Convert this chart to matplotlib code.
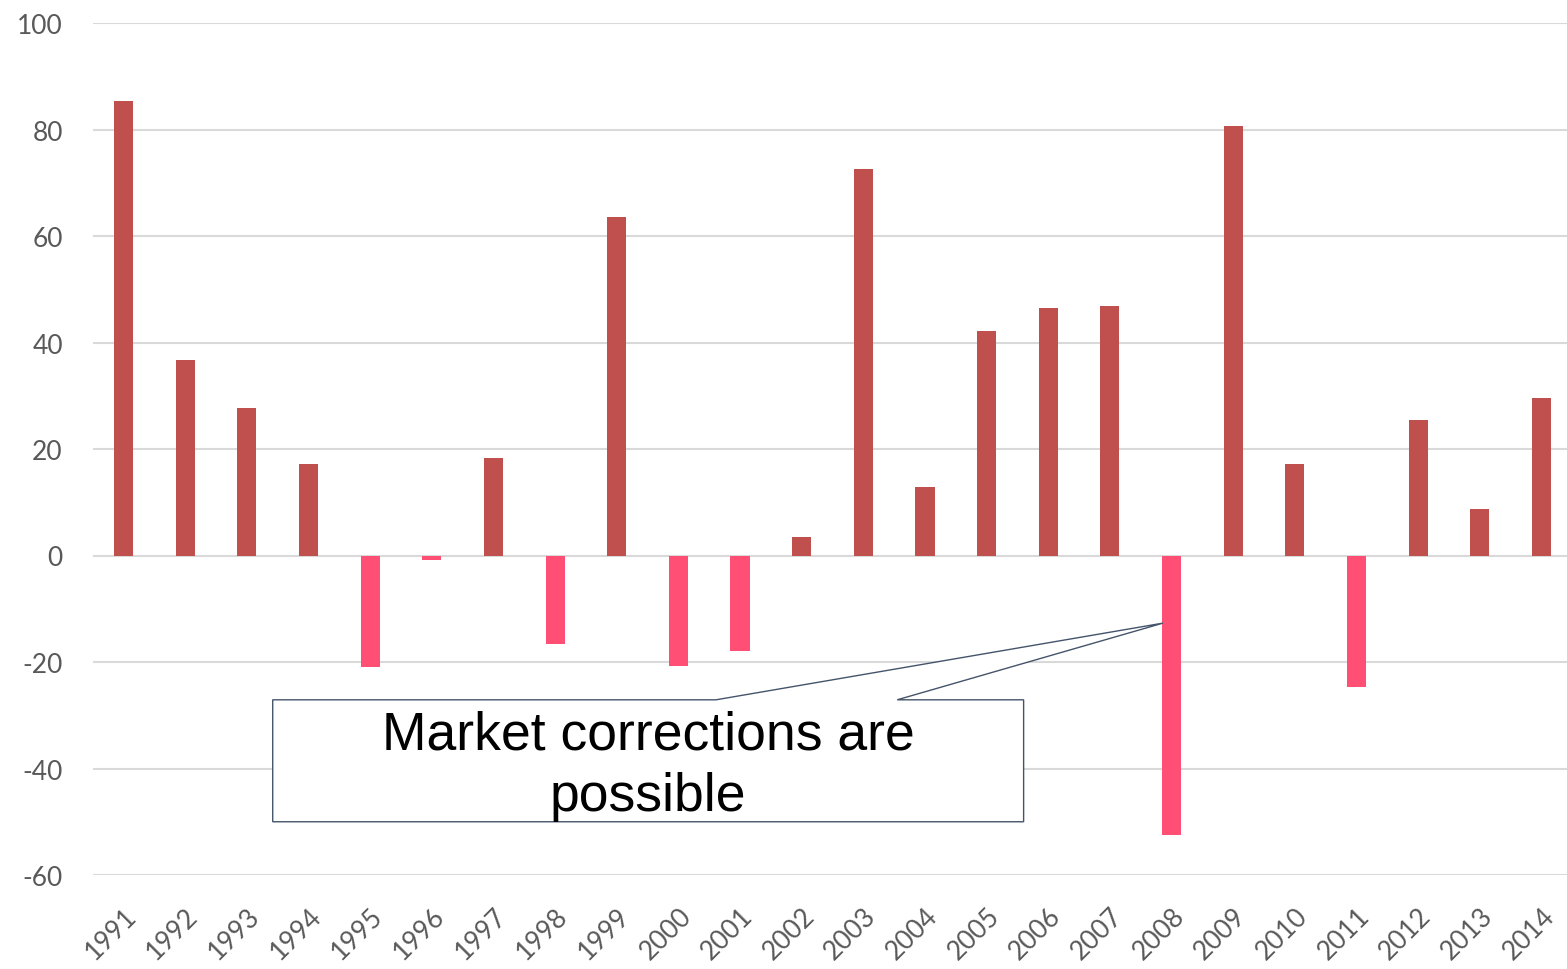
import matplotlib
matplotlib.use("Agg")
import matplotlib.pyplot as plt
from matplotlib.patches import Polygon

# Annual returns (%) by year
years = ["1991", "1992", "1993", "1994", "1995", "1996", "1997", "1998",
         "1999", "2000", "2001", "2002", "2003", "2004", "2005", "2006",
         "2007", "2008", "2009", "2010", "2011", "2012", "2013", "2014"]
returns = [85.4, 36.7, 27.7, 17.2, -21.0, -0.9, 18.4, -16.7,
           63.5, -20.8, -18.0, 3.4, 72.5, 12.9, 42.1, 46.4,
           46.8, -52.4, 80.7, 17.2, -24.7, 25.5, 8.8, 29.6]
y_ticks = [-60, -40, -20, 0, 20, 40, 60, 80, 100]
callout_text = "Market corrections are\npossible"

POS_COLOR = "#C0504D"
NEG_COLOR = "#FF4F75"
GRID_COLOR = "#D9D9D9"
LABEL_COLOR = "#595959"

W, H = 1567, 970
fig = plt.figure(figsize=(W / 100, H / 100), dpi=100)
left_px, right_px, top_px, bot_px = 92.7, 1572.3, 24, 876
ax = fig.add_axes([left_px / W, 1 - bot_px / H,
                   (right_px - left_px) / W, (bot_px - top_px) / H])

x = list(range(len(years)))
colors = [POS_COLOR if v >= 0 else NEG_COLOR for v in returns]
ax.bar(x, returns, width=0.31, color=colors, zorder=3)

ax.set_xlim(-0.5, len(years) - 0.5)
ax.set_ylim(-60, 100)
ax.set_yticks(y_ticks)
ax.set_yticklabels([str(t) for t in y_ticks])
ax.set_xticks(x)
ax.set_xticklabels(years, rotation=45, ha="right", rotation_mode="anchor")

ax.grid(axis="y", color=GRID_COLOR, linewidth=1.5, zorder=0)
ax.set_axisbelow(True)
for s in ax.spines.values():
    s.set_visible(False)
ax.tick_params(axis="both", length=0, labelcolor=LABEL_COLOR, labelsize=19)
ax.tick_params(axis="y", pad=21.5)
ax.tick_params(axis="x", pad=20)
for lab in ax.get_xticklabels() + ax.get_yticklabels():
    lab.set_family("Lato")

# Wedge callout pointing at the 2008 drop
box_x0, box_x1 = 2.42, 14.60
box_top, box_bot = -27.1, -50.0
wedge_a, wedge_b = 9.61, 12.55
tip = (16.86, -12.7)
outline = [
    (box_x0, box_bot), (box_x0, box_top), (wedge_a, box_top), tip,
    (wedge_b, box_top), (box_x1, box_top), (box_x1, box_bot),
]
ax.add_patch(Polygon(outline, closed=True, facecolor="white",
                     edgecolor="#44546A", linewidth=1.0, zorder=4))
ax.text((box_x0 + box_x1) / 2, (box_top + box_bot) / 2 - 0.8, callout_text,
        ha="center", va="center", fontsize=38.5, family="Liberation Sans",
        color="black", linespacing=1.3, zorder=5)

fig.savefig("out.png", dpi=100)
